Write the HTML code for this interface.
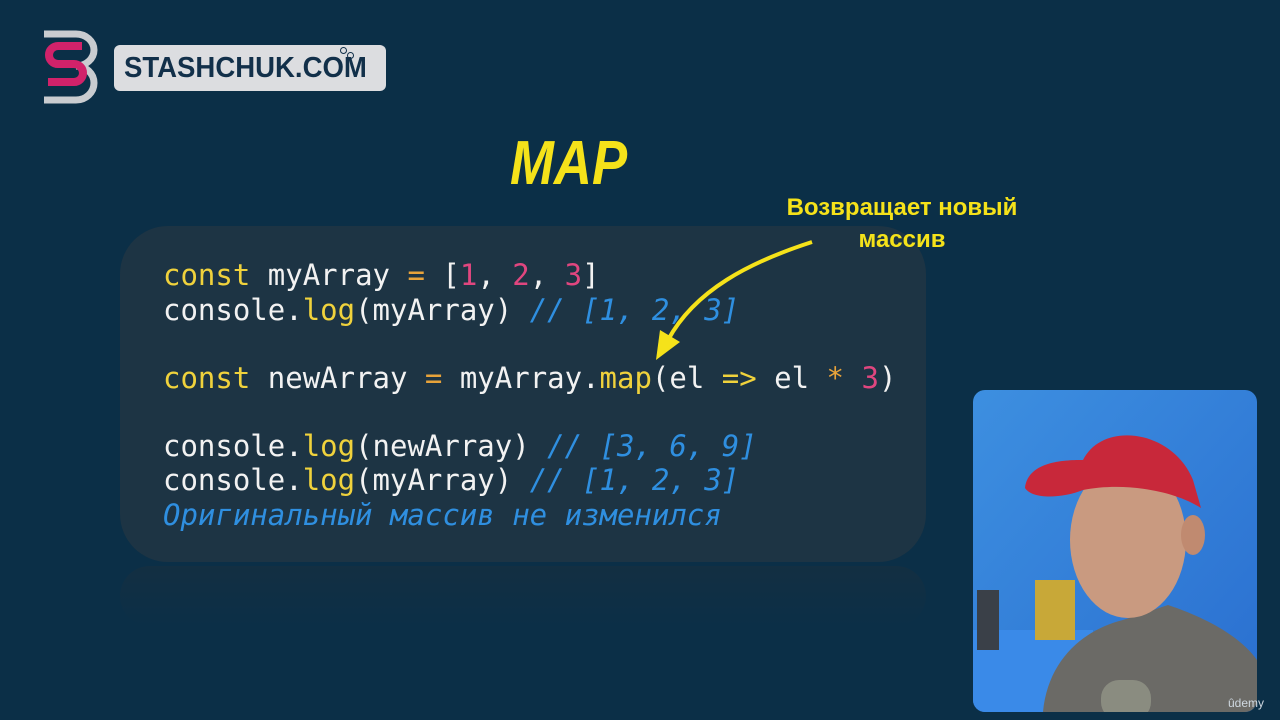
<!DOCTYPE html>
<html><head><meta charset="utf-8"><style>
body{margin:0;width:1280px;height:720px;background:#0b2f47;overflow:hidden;position:relative;font-family:"Liberation Sans",sans-serif}
.abs{position:absolute}
.code{position:absolute;left:120px;top:226px;width:806px;height:336px;background:#1d3444;border-radius:48px}
.refl{position:absolute;left:120px;top:566px;width:806px;height:60px;background:linear-gradient(#132f42,#0b2f47);border-radius:30px}
.ln{position:absolute;left:163px;font-family:"DejaVu Sans Mono","Liberation Mono",monospace;font-size:29px;color:#f2f2f2;white-space:pre;line-height:34px}
.k{color:#f0d23c}.n{color:#e0467f}.c{color:#2f8fe0;font-style:italic}.o{color:#e8a33a}
</style></head><body>
<!-- logo -->
<svg class="abs" style="left:38px;top:30px" width="64" height="74" viewBox="0 0 64 74">
<path d="M6 4 H38 A18 16 0 0 1 38 36 A18 17 0 0 1 38 70 H6" fill="none" stroke="#c9ccd0" stroke-width="7"/>
<path d="M44 16 H20 A9 9 0 0 0 20 34 H36 A9 9 0 0 1 36 52 H10" fill="none" stroke="#d1226a" stroke-width="8"/>
</svg>
<div class="abs" style="left:114px;top:45px;width:272px;height:46px;background:#dcdde0;border-radius:6px"></div>
<div class="abs" style="left:124px;top:52px;font-size:29px;font-weight:bold;color:#12304a;transform:scaleX(0.95);transform-origin:left">STASHCHUK.COM</div>
<div class="abs" style="left:340px;top:47px;width:5px;height:5px;border:1.5px solid #12304a;border-radius:50%"></div>
<div class="abs" style="left:347px;top:52px;width:5px;height:5px;border:1.5px solid #12304a;border-radius:50%"></div>
<!-- title -->
<div class="abs" style="left:510px;top:128px;font-size:62px;font-weight:bold;font-style:italic;color:#f5e21a;transform:scaleX(0.85);transform-origin:left">MAP</div>
<div class="refl"></div>
<div class="code"></div>
<div class="abs" style="left:762px;top:192px;width:280px;text-align:center;font-size:24px;font-weight:bold;color:#f5e21a;line-height:32px">Возвращает новый<br>массив</div>
<div class="ln" style="top:258px"><span class="k">const</span> myArray <span class="o">=</span> [<span class="n">1</span>, <span class="n">2</span>, <span class="n">3</span>]</div>
<div class="ln" style="top:293px">console.<span class="k">log</span>(myArray) <span class="c">// [1, 2, 3]</span></div>
<div class="ln" style="top:361px"><span class="k">const</span> newArray <span class="o">=</span> myArray.<span class="k">map</span>(el <span class="k">=&gt;</span> el <span class="o">*</span> <span class="n">3</span>)</div>
<div class="ln" style="top:429px">console.<span class="k">log</span>(newArray) <span class="c">// [3, 6, 9]</span></div>
<div class="ln" style="top:463px">console.<span class="k">log</span>(myArray) <span class="c">// [1, 2, 3]</span></div>
<div class="ln" style="top:498px"><span class="c">Оригинальный массив не изменился</span></div>
<!-- arrow -->
<svg class="abs" style="left:0;top:0" width="1280" height="720">
<path d="M812 242 C750 262 695 290 668 340" fill="none" stroke="#f5e21a" stroke-width="4"/>
<polygon points="656,360 660,330 680,342" fill="#f5e21a"/>
</svg>
<!-- webcam -->
<svg class="abs" style="left:973px;top:390px" width="284" height="322" viewBox="0 0 284 322">
<defs><clipPath id="cl"><rect width="284" height="322" rx="12"/></clipPath>
<linearGradient id="bg" x1="0" y1="0" x2="1" y2="1"><stop offset="0" stop-color="#3d8fe0"/><stop offset="1" stop-color="#2a6fd0"/></linearGradient></defs>
<g clip-path="url(#cl)">
<rect width="284" height="322" fill="url(#bg)"/>
<rect x="0" y="240" width="120" height="82" fill="#3a8ae8"/>
<rect x="4" y="200" width="22" height="60" fill="#3a4048"/>
<rect x="62" y="190" width="40" height="60" fill="#c8a838"/>
<path d="M70 322 C75 270 110 240 150 230 L195 215 C240 230 270 250 284 270 V322Z" fill="#6b6a66"/>
<rect x="128" y="290" width="50" height="40" rx="18" fill="#8a8c80"/>
<ellipse cx="155" cy="150" rx="58" ry="78" fill="#c99a80"/>
<ellipse cx="220" cy="145" rx="12" ry="20" fill="#c08a70"/>
<path d="M52 98 C55 70 95 70 110 70 C130 30 200 40 220 90 L228 118 C200 100 150 92 110 100 C90 108 60 110 52 98Z" fill="#c8283a"/>
</g></svg>
<div class="abs" style="left:1228px;top:696px;font-size:12px;color:#cfd8e0">ûdemy</div>
</body></html>
